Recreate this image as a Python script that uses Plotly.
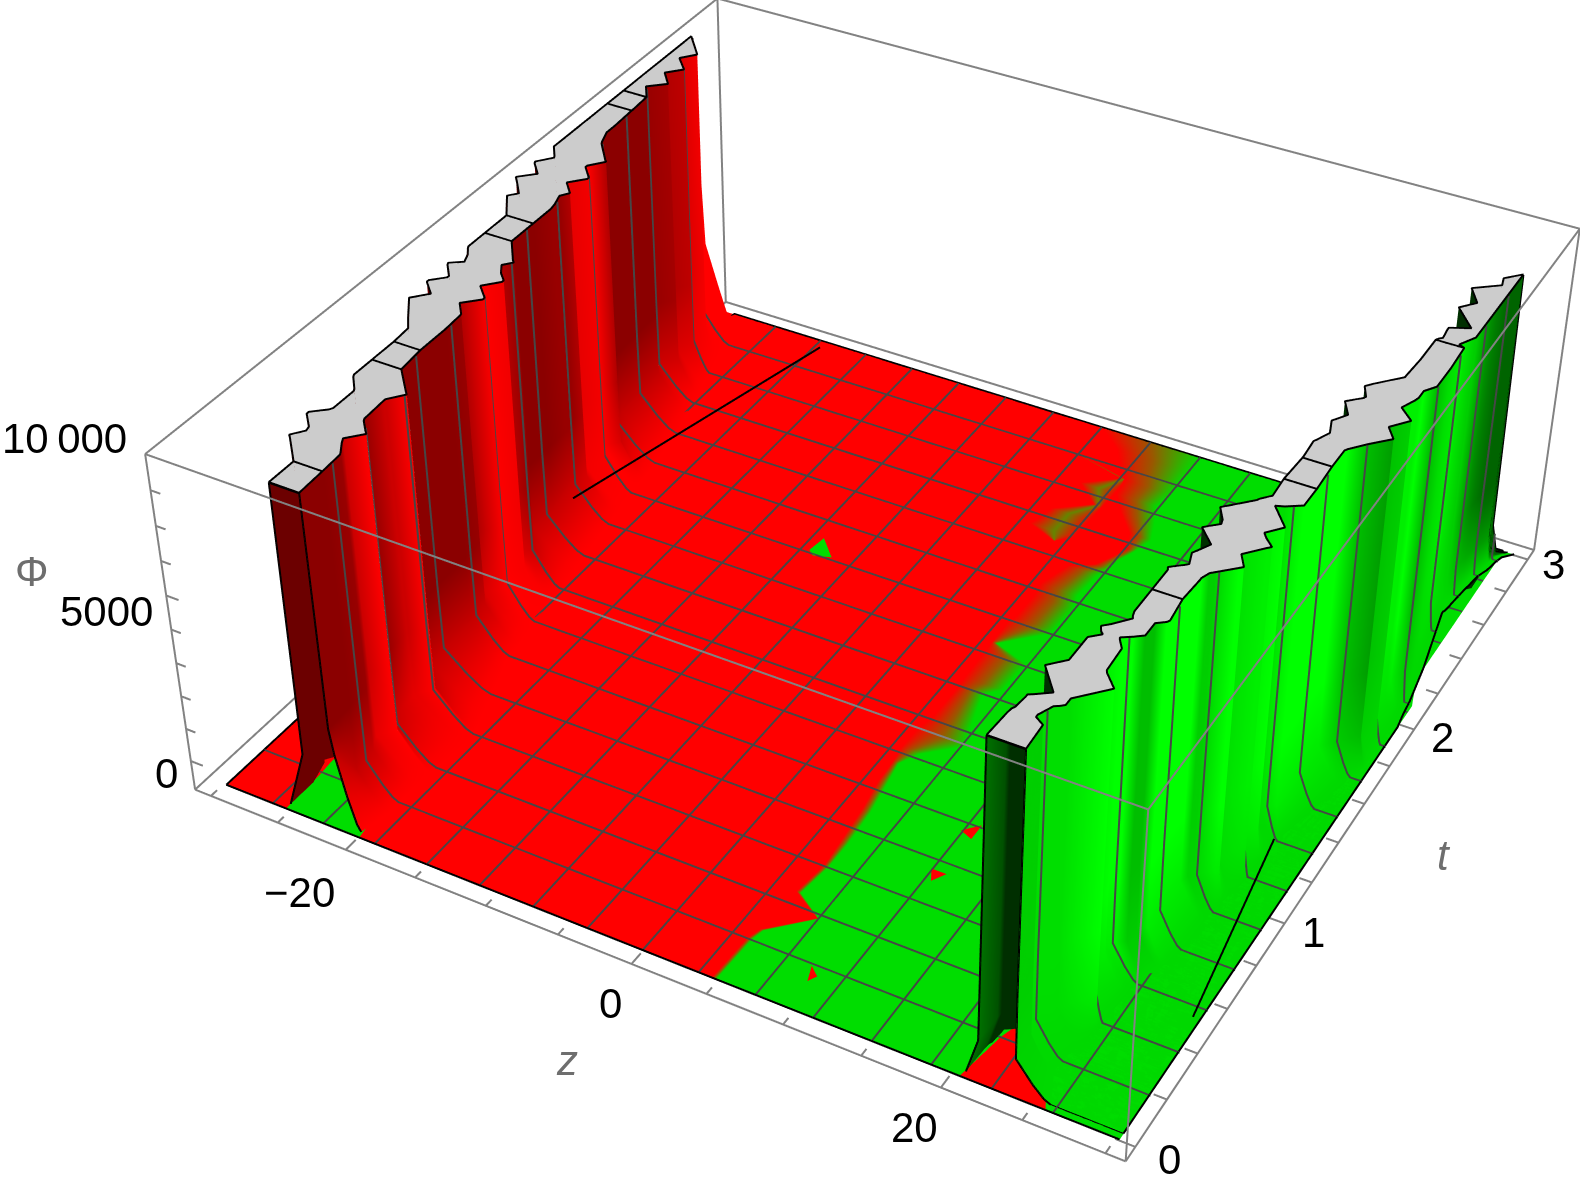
import numpy as np
import plotly.graph_objects as go

# ---------- read values ----------
z_axis_ticks = list(range(-30, 35, 5))
z_major_ticks = [-20, 0, 20]
t_axis_ticks = [0.2 * k for k in range(0, 16)]
t_major_ticks = [0, 1, 2, 3]
phi_axis_ticks = list(range(0, 10000, 1000))
z_range = [-31.2, 31.2]
t_range = [-0.06, 3.06]
phi_range = [-900, 9000]
floor_phi = -880
cap_phi = 8800
z_lo, z_hi = -29.75, 30.25
z_hi_back = 29.5

# left wall: t, outer cap edge, inner cap edge, inner foot
L_t = [0.025,0.14,0.23,0.24,0.28,0.30,0.35,0.36,0.40,0.41,
       0.51,0.52,0.57,0.58,0.67,0.78,0.86,0.91,1.00,1.05,
       1.10,1.11,1.15,1.16,1.21,1.22,1.25,1.29,1.32,1.33,
       1.42,1.43,1.54,1.64,1.67,1.72,1.75,1.80,1.85,1.86,
       1.91,1.92,1.97,1.98,2.06,2.07,2.13,2.18,2.29,2.30,
       2.39,2.45,2.50,2.56,2.61,2.67,2.72,2.82,2.87,2.95,3.00]
L_outer = [-23.9,-23.9,-25.5,-25.7,-25.1,-25.2,-26.1,-26.1,-25.2,-25.1,
           -25.1,-25.2,-26.0,-26.1,-26.1,-26.1,-26.2,-26.9,-28.1,-27.2,
           -28.2,-28.2,-27.4,-27.4,-28.2,-28.3,-27.5,-27.8,-28.2,-28.3,
           -28.3,-28.3,-28.3,-29.6,-29.1,-29.9,-30.4,-29.4,-30.3,-30.4,
           -29.6,-29.7,-30.4,-30.4,-30.4,-30.4,-30.4,-30.4,-30.4,-30.4,
           -30.4,-30.4,-30.4,-30.4,-30.4,-30.4,-30.4,-30.4,-30.4,-30.4,-30.4]
L_inner = [-21.8,-21.9,-22.0,-22.1,-22.6,-22.8,-21.9,-22.1,-22.8,-22.9,
           -23.0,-23.0,-22.2,-22.4,-24.0,-24.2,-24.2,-24.2,-24.3,-25.1,
           -24.1,-24.1,-24.9,-25.1,-24.2,-24.2,-24.8,-25.3,-24.8,-25.0,
           -26.3,-26.3,-26.3,-26.3,-26.4,-26.7,-26.3,-27.2,-26.3,-26.3,
           -27.2,-27.2,-26.4,-26.6,-27.9,-28.0,-28.4,-28.4,-28.5,-28.5,
           -28.6,-29.4,-28.3,-29.3,-28.4,-29.5,-28.7,-30.4,-30.4,-30.4,-30.4]
L_foot = [-20.1,-19.7,-19.7,-19.7,-19.7,-19.7,-19.6,-19.6,-19.5,-19.5,
          -19.3,-19.3,-19.4,-19.5,-20.1,-20.8,-21.3,-21.7,-21.9,-22.1,
          -22.2,-22.3,-22.4,-22.4,-22.5,-22.6,-22.7,-22.8,-22.9,-22.9,
          -23.1,-23.2,-23.5,-23.8,-23.8,-24.0,-24.1,-24.2,-24.3,-24.4,
          -24.5,-24.5,-24.7,-24.7,-24.9,-25.0,-25.1,-25.3,-25.7,-25.8,
          -26.2,-26.5,-26.8,-27.1,-27.3,-27.6,-27.8,-28.0,-28.0,-28.0,-28.0]
L_top = [8800] * 58 + [2000, 200, -880]
L_shade = [.45,.45,.5,.5,.6,.7,.9,.5,.5,.5,
           .7,.7,.9,.45,.45,.45,.45,.45,.5,.6,
           .85,.85,.9,.9,.85,.85,.8,.6,.5,.45,
           .45,.45,.45,.5,.5,.5,.6,.8,.85,.85,
           .9,.9,.6,.5,.45,.45,.45,.45,.45,.45,
           .45,.5,.55,.6,.65,.75,.85,.9,.9,.9,.9]
L_cross = [0.14, 0.67, 0.78, 1.42, 1.54, 2.29, 2.39]
L_knee = 900

# right wall: t, low-side cap edge, high-side cap edge, high-side foot, height at the z edge
R_t = [0.025,0.13,0.15,0.16,0.21,0.22,0.23,0.26,0.35,0.40,
       0.41,0.51,0.54,0.55,0.57,0.59,0.64,0.65,0.67,0.68,
       0.78,0.88,0.89,0.92,0.93,0.98,0.99,1.04,1.10,1.11,
       1.14,1.16,1.21,1.29,1.30,1.33,1.42,1.54,1.55,1.63,
       1.64,1.69,1.75,1.80,1.86,1.90,1.91,1.96,1.98,2.02,
       2.06,2.07,2.17,2.29,2.30,2.31,2.36,2.37,2.40,2.49,
       2.54,2.61,2.67,2.71,2.76,2.79,2.86,3.00]
R_low = [21.35,21.45,21.5,21.6,21.7,21.7,22.0,22.8,21.4,22.3,
         22.3,22.3,22.9,22.7,22.5,22.9,23.7,23.6,23.5,23.5,
         23.5,23.5,23.4,24.1,24.3,24.0,24.1,24.6,23.5,23.7,
         24.3,24.2,23.6,25.1,25.2,25.7,25.6,25.7,25.7,25.6,
         25.7,26.1,25.7,26.3,25.6,26.4,26.5,26.0,26.3,27.0,
         27.7,27.7,27.8,27.8,27.9,28.1,28.0,28.0,29.2,27.7,
         28.5,27.6,29.1,28.9,29.8,29.8,29.8,29.8]
R_high = [23.6,23.5,22.9,22.9,23.3,23.6,23.8,23.8,25.4,24.5,
          24.4,24.3,23.9,23.8,24.4,24.9,24.9,24.9,25.4,25.5,
          25.3,25.4,25.4,25.6,25.8,26.8,27.0,26.4,27.4,27.6,
          27.0,26.7,27.5,26.2,26.7,27.6,27.6,27.5,27.5,27.5,
          27.6,28.4,29.5,28.8,29.7,28.9,28.7,29.1,29.2,29.2,
          29.7,29.7,29.7,29.6,29.2,29.3,29.8,29.8,29.8,29.8,
          29.8,29.8,29.8,29.8,29.8,29.8,29.8,29.8]
R_foot = [25.9,25.0,24.9,24.9,25.0,25.0,25.1,25.2,25.5,25.6,
          25.6,25.8,25.8,25.9,26.0,26.1,26.4,26.5,26.6,26.7,
          27.0,27.1,27.1,27.1,27.2,27.3,27.3,27.5,27.7,27.7,
          27.7,27.7,27.8,27.9,27.9,28.0,28.4,28.9,29.0,29.3,
          29.4,29.5,29.9,29.9,29.9,29.9,29.9,29.9,29.9,29.9,
          29.9,29.9,29.9,29.9,29.9,29.9,29.9,29.9,29.9,29.9,
          29.9,29.9,29.9,29.9,29.9,29.9,29.9,29.9]
R_edge = [-880] * 49 + [-700, -600, -580, -66, 1000, 1000, 950, 850, 850, 800, 650,
                        550, 430, 250, 120, 0, -50, -250, -880]
R_top = [8800] * 65 + [1100, -100, -880]
R_shade = [.75,.75,.8,.8,.8,.8,.8,.8,.9,.85,
           .85,.9,.9,.9,.9,.7,.7,.7,.9,.9,
           .9,.9,.9,.75,.75,.9,.9,.8,.85,.85,
           .85,.85,.9,.8,.8,.9,.9,.9,.9,.9,
           .9,.7,.6,.7,.75,.85,.85,.85,.85,.9,
           .7,.7,.8,.85,.85,.85,.75,.75,.7,.55,
           .5,.45,.4,.4,.4,.4,.4,.4]
R_back_shade = [0.47, 0.3] + [0.12] * 66
R_cross = [0.78, 1.42, 1.54, 2.29]
R_knee = 200

# wall cross-section
slope_pos = [0.01, 0.03, 0.50, 0.80, 1.0]
slope_height = [0.30, 0.10, 0.04, 0.01, 0.0]
slope_tint = [0.0, 0.5, 0.8, 0.95, 1.0]
front_pos = [0.05, 0.20, 0.55, 0.85, 1.0]
front_height = [0.30, 0.22, 0.10, 0.02, 0.0]

# floor colouring: t row, red end, green start, fringe island, tunnel patches
F_t = [0.00,0.19,0.24,0.36,0.43,0.57,0.68,0.84,0.98,1.08,
       1.15,1.25,1.33,1.50,1.55,1.70,1.75,1.87,1.90,2.03,
       2.10,2.23,2.28,2.33,2.38,2.41,2.49,2.58,2.67,2.76,
       2.83,2.91,3.00]
F_red = [4.6,4.7,5.0,7.4,5.2,5.5,5.3,5.0,4.6,4.5,
         4.3,4.3,4.6,4.6,4.5,4.4,4.4,4.3,4.5,4.5,
         4.3,5.0,6.5,7.0,7.4,7.6,7.0,5.5,4.3,4.0,
         3.0,2.0,0.0]
F_green = [4.9,5.0,5.2,7.5,5.5,5.8,5.8,5.6,5.2,4.9,
           5.6,7.7,7.2,6.3,7.2,7.3,4.7,7.1,7.3,7.4,
           7.0,7.2,7.5,7.6,8.0,8.2,8.6,8.0,7.3,7.6,
           7.6,7.6,7.6]
F_isle_a = [3.0] * 23 + [3.0, 0.7, 0.9, 1.2, 3.5, 1.6, 3.8, -1.0, -1.0, -1.0]
F_isle_b = [3.0] * 23 + [3.0, 2.5, 2.5, 2.5, 3.8, 3.0, 4.0, -1.0, -1.0, -1.0]
F_isle_c = [3.0] * 23 + [3.0, 4.0, 4.0, 4.1, 4.1, 4.2, 4.2, -1.0, -1.0, -1.0]
F_gl_a = [-25.3,-25.4,-25.5,-25.5,-25.5,-25.5] + [-24.0] * 27
F_gl_b = [-19.9,-20.5,-20.5,-21.0,-21.0,-21.0] + [-24.0] * 27
F_rd_a = [20.5,21.1,21.4,22.0,22.0,22.0] + [22.0] * 27
F_rd_b = [25.8,24.0,24.0,22.0,22.0,22.0] + [22.0] * 27
F_end = [z_hi] * 21 + [z_hi_back] * 12
fringe_value = 0.4
isle_value = 0.6

mesh_z = [-30 + 3.75 * k for k in range(1, 16)]
mesh_t = [0.1875 * k for k in range(1, 16)]

spot_red_z = [9.1,9.8,9.5, 11.17,12.17,11.65, 11.1,12.0,12.0]
spot_red_t = [0.18,0.15,0.12, 0.708,0.708,0.66, 0.90,0.95,0.88]
spot_green_z = [-10.7,-10.5,-9.0,-10.2]
spot_green_t = [1.89,1.97,1.89,1.87]
black_z = [-25.8, -22.1]
black_t = [1.63, 2.96]
black_phi = [0, -865]
black2_z = [29.8, 29.5]
black2_t = [0.52, 1.08]
black2_phi = [-865, 900]

tick_labels_z = ["\u221220", "0", "20"]
tick_labels_t = ["0", "1", "2", "3"]
tick_labels_phi = ["0", "5000", "10\u2009000"]

# ---------- page geometry for the long-lens view ----------
PAGE_W, PAGE_H = 1724, 2870
PAGE_TOP = -932
def paper(px, py):
    return px / PAGE_W, 1 - (py - PAGE_TOP) / PAGE_H

RED = "rgb(255,0,0)"
GREEN = "rgb(0,221,0)"
GREY = "rgb(204,204,204)"
MESH = "rgb(70,70,70)"
BOX = "rgb(130,130,130)"
NOLIGHT = dict(ambient=1, diffuse=0, specular=0, roughness=1, fresnel=0)
W_BOX, W_BLACK, W_MESH = 4, 4, 4

wall_scale_red = [[0, "rgb(70,0,0)"], [0.45, "rgb(139,0,0)"], [0.9, "rgb(255,0,0)"], [0.96, "rgb(255,0,0)"], [0.96, GREY], [1, GREY]]
wall_scale_green = [[0, "rgb(0,25,0)"], [0.45, "rgb(0,110,0)"], [0.9, "rgb(0,255,0)"], [0.96, "rgb(0,255,0)"], [0.96, GREY], [1, GREY]]

fig = go.Figure()

# floor
ft = np.array(F_t)
fx = np.column_stack([np.full_like(ft, z_lo), F_gl_a, F_gl_a, F_gl_b, F_gl_b,
                      F_isle_a, F_isle_b, F_isle_c, F_red,
                      (np.array(F_red) + np.array(F_green)) / 2, F_green,
                      F_rd_a, F_rd_a, F_rd_b, F_rd_b, F_end])
col_vals = [0, 0, 1, 1, 0, 0, isle_value, 0, 0, fringe_value, 1, 1, 0, 0, 1, 1]
fc = np.tile(np.array(col_vals, float), (len(ft), 1))
fy = np.tile(ft[:, None], (1, fx.shape[1]))
fig.add_trace(go.Surface(x=fx, y=fy, z=np.full(fx.shape, floor_phi, float), surfacecolor=fc,
                         cmin=0, cmax=1, colorscale=[[0, RED], [1, GREEN]], showscale=False,
                         lighting=NOLIGHT, hoverinfo="skip",
                         contours=dict(x=dict(highlight=False), y=dict(highlight=False), z=dict(highlight=False))))

def wall(ts, low, high, foot, top, low_foot, knee, shade, back_shade, foot_value, edge=None, front=False):
    rows_x, rows_z, rows_c = [], [], []
    for k, t in enumerate(ts):
        base = floor_phi if edge is None else edge[k]
        outside = low_foot[k] is None
        lf = low[k] if outside else low_foot[k]
        lf_phi = top[k] if outside else floor_phi
        kn_phi = top[k] if outside else min(knee, top[k])
        px = [lf, low[k], low[k], low[k], high[k], high[k]]
        pz = [lf_phi, kn_phi, top[k], top[k], top[k], top[k]]
        pc = [back_shade[k], back_shade[k], back_shade[k], 1.0, 1.0, shade[k]]
        hi = max(high[k], foot[k])
        sp, sh = (front_pos, front_height) if (front and k == 0) else (slope_pos, slope_height)
        for p, h, m in zip(sp, sh, slope_tint):
            px.append(high[k] + (hi - high[k]) * p)
            pz.append(base + (top[k] - base) * h)
            pc.append(shade[k] + (foot_value - shade[k]) * m)
        if edge is not None:
            px.append(z_hi); pz.append(edge[k]); pc.append(foot_value)
        rows_x.append(px); rows_z.append(pz); rows_c.append(pc)
    return np.array(rows_x), np.array(rows_z), np.array(rows_c)

L_low_foot = [None if o <= -30.3 else (o - 0.3 if o < -25 else o - 1.4) for o in L_outer]
R_low_foot = [v - 0.7 for v in R_low]
LX, LZ, LC = wall(L_t, L_outer, L_inner, L_foot, L_top, L_low_foot, L_knee, L_shade, [0.25] * len(L_t), 0.9, front=True)
RX, RZ, RC = wall(R_t, R_low, R_high, R_foot, R_top, R_low_foot, R_knee, R_shade, R_back_shade, 0.78, R_edge)

for X, Y, Z, C, scale in ((LX, L_t, LZ, LC, wall_scale_red), (RX, R_t, RZ, RC, wall_scale_green)):
    YY = np.tile(np.array(Y)[:, None], (1, X.shape[1]))
    fig.add_trace(go.Surface(x=X, y=YY, z=Z, surfacecolor=C, cmin=0, cmax=1, colorscale=scale,
                             showscale=False, lighting=NOLIGHT, hoverinfo="skip",
                             contours=dict(x=dict(highlight=False), y=dict(highlight=False), z=dict(highlight=False))))

def lines(xs, ys, zs, color, width=W_BLACK):
    fig.add_trace(go.Scatter3d(x=xs, y=ys, z=zs, mode="lines", line=dict(color=color, width=width),
                               hoverinfo="skip", showlegend=False, connectgaps=False))

# floor mesh
mx, my, mz = [], [], []
lift = floor_phi + 15
for v in mesh_z:
    mx += [v, v, None]; my += [0, 3, None]; mz += [lift, lift, None]
for v in mesh_t:
    mx += [z_lo, z_hi if v < 2.15 else z_hi_back, None]; my += [v, v, None]; mz += [lift, lift, None]
lines(mx, my, mz, MESH, W_MESH)

# wall mesh: the same t lines continued up the visible faces
wx, wy, wz = [], [], []
for X, Z, T, first in ((LX, LZ, L_t, 5), (RX, RZ, R_t, 5)):
    for v in mesh_t:
        for c in range(first, X.shape[1]):
            wx.append(float(np.interp(v, T, X[:, c])) + 0.07)
            wy.append(v)
            wz.append(float(np.interp(v, T, Z[:, c])) + 5)
        wx.append(None); wy.append(None); wz.append(None)
lines(wx, wy, wz, MESH, W_MESH)

# black outlines
lines([z_lo, z_hi], [0, 0], [lift] * 2, "black")
lines([z_lo, z_lo, z_hi_back], [0, 3, 3], [lift] * 3, "black")
lines([z_hi] * len(R_t), R_t, [v + 15 for v in R_edge], "black")
lines(black_z, black_t, black_phi, "black")
lines(black2_z, black2_t, black2_phi, "black")
n_l = 58
lines(L_outer[:n_l] + L_inner[:n_l][::-1] + [L_outer[0]], L_t[:n_l] + L_t[:n_l][::-1] + [L_t[0]],
      [cap_phi + 15] * (2 * n_l + 1), "black")
n_r = 65
lines(R_low[:n_r] + R_high[:n_r][::-1] + [R_low[0]], R_t[:n_r] + R_t[:n_r][::-1] + [R_t[0]],
      [cap_phi + 15] * (2 * n_r + 1), "black")
cx, cy, cz = [], [], []
for T, A, B, K in ((L_t, L_outer, L_inner, L_cross), (R_t, R_low, R_high, R_cross)):
    for v in K:
        k = T.index(v)
        cx += [A[k], B[k], None]; cy += [v, v, None]; cz += [cap_phi + 15, cap_phi + 15, None]
lines(cx, cy, cz, "black")
lines(LX[0].tolist(), [L_t[0]] * LX.shape[1], LZ[0].tolist(), "black")
lines(RX[0].tolist(), [R_t[0]] * RX.shape[1], RZ[0].tolist(), "black")
lines(R_high[n_r - 1:], R_t[n_r - 1:], R_top[n_r - 1:], "black")

# small spots on the floor
fig.add_trace(go.Mesh3d(x=spot_red_z, y=spot_red_t, z=[floor_phi + 8] * 9, i=[0, 3, 6], j=[1, 4, 7], k=[2, 5, 8],
                        color=RED, lighting=NOLIGHT, flatshading=True, hoverinfo="skip"))
fig.add_trace(go.Mesh3d(x=spot_green_z, y=spot_green_t, z=[floor_phi + 8] * 4, i=[0, 0], j=[1, 2], k=[2, 3],
                        color=GREEN, lighting=NOLIGHT, flatshading=True, hoverinfo="skip"))

# box
zl, zh = z_range; tl, th = t_range; pl, ph = phi_range
bx, by, bz = [], [], []
for a, b, c, d, e, f in [(zl,tl,pl,zh,tl,pl),(zh,tl,pl,zh,th,pl),(zh,th,pl,zl,th,pl),(zl,th,pl,zl,tl,pl),
                         (zl,tl,ph,zh,tl,ph),(zh,tl,ph,zh,th,ph),(zh,th,ph,zl,th,ph),(zl,th,ph,zl,tl,ph),
                         (zl,tl,pl,zl,tl,ph),(zh,tl,pl,zh,tl,ph),(zh,th,pl,zh,th,ph),(zl,th,pl,zl,th,ph)]:
    bx += [a, d, None]; by += [b, e, None]; bz += [c, f, None]
lines(bx, by, bz, BOX, W_BOX)

# ticks
tx, ty, tz = [], [], []
for v in z_axis_ticks:
    n = 0.05 if v in z_major_ticks else 0.03
    tx += [v, v, None]; ty += [tl, tl + n, None]; tz += [pl, pl, None]
for v in t_axis_ticks:
    n = 1.2 if min(abs(v - m) for m in t_major_ticks) < 1e-6 else 0.8
    tx += [zh, zh - n, None]; ty += [v, v, None]; tz += [pl, pl, None]
for v in phi_axis_ticks:
    n = 0.9 if v in (0, 5000) else 0.7
    tx += [zl, zl + n, None]; ty += [tl, tl, None]; tz += [v, v, None]
lines(tx, ty, tz, BOX, W_BOX)

# texts
TICK_SIZE = 42
def text(s, px, py, color="black", size=TICK_SIZE, italic=False):
    x, y = paper(px, py)
    fig.add_annotation(xref="paper", yref="paper", x=x, y=y, xanchor="center", yanchor="middle", showarrow=False,
                       text=s, font=dict(family="Liberation Sans", size=size, color=color,
                                         style="italic" if italic else "normal"))
for s, p in zip(tick_labels_phi, [(166, 773), (106, 611), (64, 438)]):
    text(s, *p)
for s, p in zip(tick_labels_z, [(299, 892), (610, 1003), (915, 1127)]):
    text(s, *p)
for s, p in zip(tick_labels_t, [(1169, 1159), (1313, 932), (1442, 737), (1553, 564)]):
    text(s, *p)
text("z", 567, 1060, "rgb(110,110,110)", italic=True)
text("t", 1444, 855, "rgb(110,110,110)", italic=True)
text("\u03a6", 32, 572, "rgb(110,110,110)")

# the scene runs slightly past the drawn box so its edges are not clipped
GROW = 1.04
def grown(rng):
    mid, half = sum(rng) / 2, (rng[1] - rng[0]) / 2 * GROW
    return [mid - half, mid + half]
def hidden(rng):
    return dict(range=grown(rng), visible=False, showspikes=False, autorange=False)

fig.update_layout(
    width=PAGE_W, height=PAGE_H, autosize=False, margin=dict(l=0, r=0, t=0, b=0),
    paper_bgcolor="white", showlegend=False,
    scene=dict(xaxis=hidden(z_range), yaxis=hidden(t_range), zaxis=hidden(phi_range),
               bgcolor="white", aspectmode="manual",
               aspectratio=dict(x=2.50798 * GROW, y=2.51195 * GROW, z=1.0 * GROW),
               camera=dict(eye=dict(x=3.28552, y=-6.06778, z=5.02618),
                           center=dict(x=-0.09464, y=0, z=-0.02470),
                           up=dict(x=0.00667, y=0, z=1),
                           projection=dict(type="perspective"))),
)

place = ("document.body.style.margin='0';document.body.style.overflow='hidden';"
         "var g=document.getElementById('{plot_id}');g.style.position='fixed';g.style.left='0px';"
         "g.style.top='%dpx';" % PAGE_TOP)
fig.write_html("out.html", post_script=place, config=dict(displayModeBar=False))
